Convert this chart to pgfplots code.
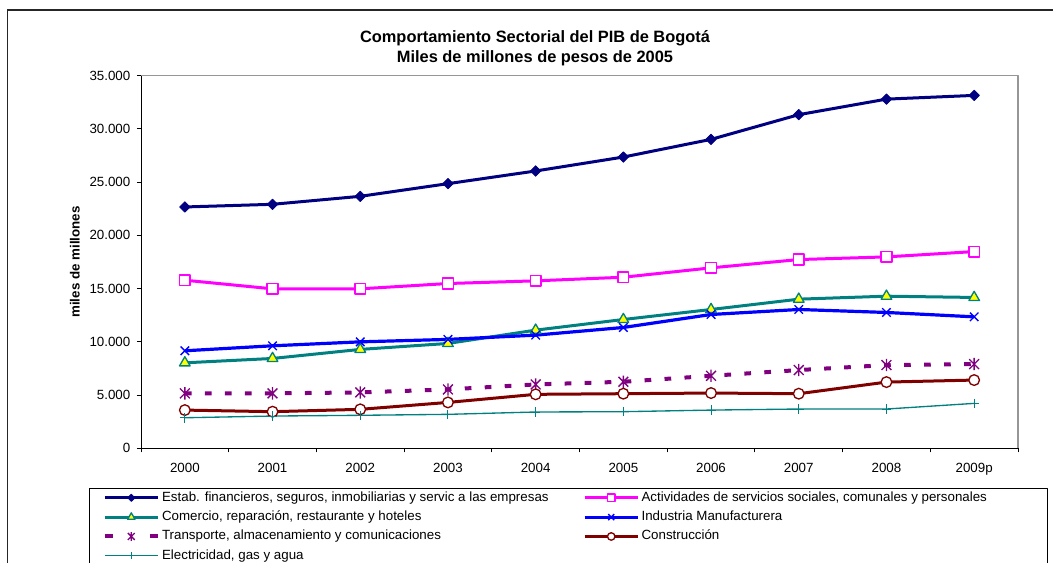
\documentclass[border=0pt]{standalone}
\usepackage{fontspec}
\setmainfont{Liberation Sans}
\usepackage{pgfplots}
\usepackage{pgfplotstable}
\pgfplotsset{compat=1.18}

\definecolor{cestab}{RGB}{0,0,128}
\definecolor{cact}{RGB}{255,0,255}
\definecolor{cteal}{RGB}{0,128,128}
\definecolor{cblue}{RGB}{0,0,255}
\definecolor{cpurple}{RGB}{128,0,128}
\definecolor{cred}{RGB}{128,0,0}
\definecolor{cyell}{RGB}{255,255,0}
\definecolor{boxgray}{RGB}{150,150,150}

% Excel style star: vertical bar plus an x
\pgfdeclareplotmark{xstar}{%
  \pgfpathmoveto{\pgfqpoint{0pt}{\pgfplotmarksize}}%
  \pgfpathlineto{\pgfqpoint{0pt}{-\pgfplotmarksize}}%
  \pgfpathmoveto{\pgfqpoint{-.8\pgfplotmarksize}{.8\pgfplotmarksize}}%
  \pgfpathlineto{\pgfqpoint{.8\pgfplotmarksize}{-.8\pgfplotmarksize}}%
  \pgfpathmoveto{\pgfqpoint{-.8\pgfplotmarksize}{-.8\pgfplotmarksize}}%
  \pgfpathlineto{\pgfqpoint{.8\pgfplotmarksize}{.8\pgfplotmarksize}}%
  \pgfusepathqstroke}

% legend sample for the dashed series: square dashes at both ends
\pgfplotsset{dashlegend/.style={legend image code/.code={
    \draw[##1, mark=none, dash pattern=on 6pt off 27.75pt] (0pt,0pt) -- (39.75pt,0pt);
    \draw[##1, only marks, every mark/.append style={scale=0.7}] plot coordinates {(19.875pt,0pt)};
}}}

% miles de millones de pesos de 2005
\pgfplotstableread{
x estab activ comer indus trans const elec
0 22670 15790  8030  9160 5160 3590 2870
1 22920 14980  8440  9630 5160 3440 3030
2 23670 14980  9290 10000 5250 3660 3100
3 24860 15480  9850 10230 5530 4310 3190
4 26050 15730 11100 10630 6000 5070 3410
5 27360 16070 12100 11350 6250 5130 3440
6 29020 16950 13040 12570 6810 5190 3590
7 31340 17730 14010 13040 7350 5130 3690
8 32800 17980 14290 12760 7820 6220 3690
9 33150 18480 14170 12350 7910 6410 4220
}\datos

\begin{document}
\begin{tikzpicture}
\useasboundingbox (0pt,0pt) rectangle (789.75pt,-422.25pt);
\clip (0pt,0pt) rectangle (789.75pt,-422.25pt);
\draw[black!85, line width=1.25pt] (5.5pt,-7.5pt) rectangle (797pt,-450pt);

\node[font=\bfseries\fontsize{12.3}{14}\selectfont] at (401.25pt,-28.6pt) {Comportamiento Sectorial del PIB de Bogotá};
\node[font=\bfseries\fontsize{12.3}{14}\selectfont] at (401.25pt,-43.6pt) {Miles de millones de pesos de 2005};

\begin{axis}[
  at={(105.75pt,-336.225pt)}, anchor=south west,
  scale only axis, width=657.75pt, height=279.45pt,
  xmin=-0.5, xmax=9.5, ymin=0, ymax=35000,
  scaled y ticks=false,
  axis x line*=bottom, axis y line*=left,
  axis line style={-, black, line width=0.75pt},
  x axis line style={-}, y axis line style={-},
  xtick={-0.5,0.5,...,9.5},
  xticklabels={2000,2001,2002,2003,2004,2005,2006,2007,2008,2009p,{}},
  xticklabel style={xshift=32.8875pt, yshift=-4.3pt},
  ytick={0,5000,...,35000},
  yticklabels={0,5.000,10.000,15.000,20.000,25.000,30.000,35.000},
  yticklabel style={xshift=-1.5pt},
  tick align=outside, major tick length=3pt,
  tick style={black, line width=0.75pt},
  ticklabel style={font=\fontsize{10}{12}\selectfont},
  ylabel={miles de millones},
  every axis y label/.style={at={(axis description cs:-0.0753,0.5)}, rotate=90, anchor=center, font=\bfseries\fontsize{10}{12}\selectfont},
  clip=false,
  line join=round,
  legend columns=2,
  legend cell align=left,
  legend style={at={(-0.05895,-0.10735)}, anchor=north west, draw=black, line width=0.75pt,
    inner xsep=9.75pt, inner ysep=1.75pt, row sep=4.5pt,
    font=\fontsize{10}{12}\selectfont,
    nodes={inner sep=0pt, text height=7.5pt, text depth=2.5pt},
    /tikz/every odd column/.append style={column sep=1.7pt},
    /tikz/every even column/.append style={column sep=0pt}},
  legend image code/.code={
    \draw[mark repeat=2, mark phase=2, #1, every mark/.append style={scale=0.7}]
      plot coordinates {(0pt,0pt) (19.875pt,0pt) (39.75pt,0pt)};
  },
]
\addplot[color=cestab, line width=2.25pt, mark=square*, mark size=2.8pt,
  mark options={rotate=45, fill=cestab, line width=0.5pt}]
  table[x=x, y=estab]{\datos};
\addlegendentry{\makebox[315.8pt][l]{Estab. financieros, seguros, inmobiliarias y servic a las empresas}}
\addplot[color=cact, line width=2.25pt, mark=square*, mark size=4pt,
  mark options={fill=white, line width=1.1pt}]
  table[x=x, y=activ]{\datos};
\addlegendentry{\makebox[295pt][l]{Actividades de servicios sociales, comunales y personales}}
\addplot[color=cteal, line width=2.25pt, mark=triangle*, mark size=4.6pt,
  mark options={fill=cyell, line width=1pt}]
  table[x=x, y=comer]{\datos};
\addlegendentry{\makebox[315.8pt][l]{Comercio, reparación, restaurante y hoteles}}
\addplot[color=cblue, line width=2.4pt, mark=x, mark size=4.5pt,
  mark options={line width=1pt}]
  table[x=x, y=indus]{\datos};
\addlegendentry{\makebox[295pt][l]{Industria Manufacturera}}
\addplot[color=cpurple, line width=3pt, dash pattern=on 5pt off 10pt, mark=xstar, mark size=4.6pt,
  mark options={solid, line width=1pt}, dashlegend]
  table[x=x, y=trans]{\datos};
\addlegendentry{\makebox[315.8pt][l]{Transporte, almacenamiento y comunicaciones}}
\addplot[color=cred, line width=2.25pt, mark=*, mark size=4pt,
  mark options={fill=white, line width=1pt}]
  table[x=x, y=const]{\datos};
\addlegendentry{\makebox[295pt][l]{Construcción}}
\addplot[color=cteal, line width=1pt, mark=+, mark size=3.6pt,
  mark options={line width=0.75pt}]
  table[x=x, y=elec]{\datos};
\addlegendentry{\makebox[315.8pt][l]{Electricidad, gas y agua}}
\draw[boxgray, line width=1pt] (rel axis cs:0,1) -- (rel axis cs:1,1) -- (rel axis cs:1,0);
\end{axis}
\end{tikzpicture}
\end{document}
